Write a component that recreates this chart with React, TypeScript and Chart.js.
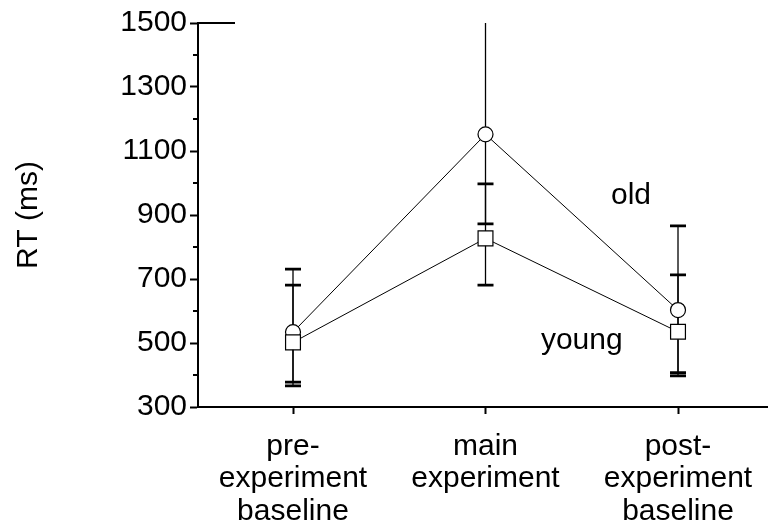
import React, { useEffect, useRef } from "react";
import { Chart, registerables } from "chart.js";

Chart.register(...registerables);

// Experiment phases (x-axis categories, multi-line labels)
const phases: string[][] = [
  ["pre-", "experiment", "baseline"],
  ["main", "experiment"],
  ["post-", "experiment", "baseline"],
];

// Mean reaction times (ms) and error-bar limits per age group
const oldMean = [534, 1152, 603];
const oldUpper = [731, 1560, 866];
const oldLower = [366, 872, 397];

const youngMean = [502, 827, 535];
const youngUpper = [681, 997, 713];
const youngLower = [378, 681, 407];

const yMajorTicks = [300, 500, 700, 900, 1100, 1300, 1500];
const yMinorTicks = [400, 600, 800, 1000, 1200, 1400];

const groupLabels = ["old", "young"];

const FONT = "'Liberation Sans', Arial, Helvetica, sans-serif";

// vertical whiskers with caps, drawn underneath the lines and markers
const errorBarPlugin = {
  id: "errorBars",
  beforeDatasetsDraw(chart: any) {
    const { ctx, chartArea, scales } = chart;
    const x = scales.x;
    const y = scales.y;
    ctx.save();
    ctx.beginPath();
    ctx.rect(chartArea.left, chartArea.top, chartArea.right - chartArea.left, chartArea.bottom - chartArea.top);
    ctx.clip();
    ctx.strokeStyle = "#000";
    chart.data.datasets.forEach((ds: any) => {
      ds.data.forEach((pt: any, i: number) => {
        const px = x.getPixelForValue(pt.x);
        const top = y.getPixelForValue(ds.errUpper[i]);
        const bot = y.getPixelForValue(ds.errLower[i]);
        ctx.lineWidth = 1.3;
        ctx.beginPath();
        ctx.moveTo(px, top);
        ctx.lineTo(px, bot);
        ctx.stroke();
        ctx.lineWidth = 2.8;
        ctx.beginPath();
        ctx.moveTo(px - 8, top);
        ctx.lineTo(px + 8, top);
        ctx.moveTo(px - 8, bot);
        ctx.lineTo(px + 8, bot);
        ctx.stroke();
      });
    });
    ctx.restore();
  },
};

// minor y ticks, the short top frame segment and the group labels
const decorPlugin = {
  id: "decor",
  afterDraw(chart: any) {
    const { ctx, chartArea, scales } = chart;
    const x = scales.x;
    const y = scales.y;
    ctx.save();
    ctx.strokeStyle = "#000";
    ctx.lineWidth = 2;
    ctx.beginPath();
    yMinorTicks.forEach((v) => {
      const py = Math.round(y.getPixelForValue(v));
      ctx.moveTo(chartArea.left - 5, py);
      ctx.lineTo(chartArea.left, py);
    });
    const pTop = y.getPixelForValue(yMajorTicks[yMajorTicks.length - 1]);
    ctx.moveTo(chartArea.left, pTop);
    ctx.lineTo(chartArea.left + 37, pTop);
    ctx.stroke();

    ctx.fillStyle = "#000";
    ctx.font = `30px ${FONT}`;
    ctx.textAlign = "center";
    ctx.textBaseline = "middle";
    ctx.fillText(groupLabels[0], x.getPixelForValue(1.756), y.getPixelForValue(959));
    ctx.fillText(groupLabels[1], x.getPixelForValue(1.5), y.getPixelForValue(506));
    ctx.restore();
  },
};

export default function App() {
  const canvasRef = useRef<HTMLCanvasElement | null>(null);

  useEffect(() => {
    const canvas = canvasRef.current;
    if (!canvas) return;

    const toPoints = (vals: number[]) => vals.map((v, i) => ({ x: i, y: v }));

    const chart = new Chart(canvas, {
      type: "line",
      data: {
        datasets: [
          {
            label: groupLabels[1],
            data: toPoints(youngMean),
            errUpper: youngUpper,
            errLower: youngLower,
            borderColor: "#000",
            borderWidth: 1,
            backgroundColor: "#fff",
            pointStyle: "rect",
            pointRadius: 10.5,
            pointBorderWidth: 1.2,
            pointBorderColor: "#000",
            pointBackgroundColor: "#fff",
            tension: 0,
          } as any,
          {
            label: groupLabels[0],
            data: toPoints(oldMean),
            errUpper: oldUpper,
            errLower: oldLower,
            borderColor: "#000",
            borderWidth: 1,
            backgroundColor: "#fff",
            pointStyle: "circle",
            pointRadius: 7.5,
            pointBorderWidth: 1.2,
            pointBorderColor: "#000",
            pointBackgroundColor: "#fff",
            tension: 0,
          } as any,
        ],
      },
      options: {
        responsive: false,
        animation: false,
        devicePixelRatio: 1,
        layout: { autoPadding: false, padding: { top: 23, left: 0, right: 0, bottom: 0 } },
        plugins: {
          legend: { display: false },
          tooltip: { enabled: false },
        },
        scales: {
          x: {
            type: "linear",
            min: -0.4935,
            max: 2.4675,
            afterBuildTicks: (scale: any) => {
              scale.ticks = phases.map((_, i) => ({ value: i }));
            },
            afterFit: (scale: any) => {
              scale.height = 124;
              scale.paddingLeft = 0;
              scale.paddingRight = 0;
            },
            border: { display: true, color: "#000", width: 2 },
            grid: {
              display: true,
              drawOnChartArea: false,
              drawTicks: true,
              tickLength: 7,
              tickColor: "#000",
              tickWidth: 2,
            },
            ticks: {
              autoSkip: false,
              maxRotation: 0,
              minRotation: 0,
              padding: 17,
              color: "#000",
              font: { family: FONT, size: 30, lineHeight: 1.07 },
              callback: (value: any) => phases[Math.round(Number(value))] ?? "",
            },
          },
          y: {
            type: "linear",
            min: yMajorTicks[0],
            max: yMajorTicks[yMajorTicks.length - 1],
            afterBuildTicks: (scale: any) => {
              scale.ticks = yMajorTicks.map((v) => ({ value: v }));
            },
            afterFit: (scale: any) => {
              scale.width = 198;
            },
            border: { display: true, color: "#000", width: 2 },
            grid: {
              display: true,
              drawOnChartArea: false,
              drawTicks: true,
              tickLength: 8,
              tickColor: "#000",
              tickWidth: 2,
            },
            ticks: {
              padding: 3,
              color: "#000",
              font: { family: FONT, size: 30 },
              callback: (value: any) => String(value),
            },
            title: {
              display: true,
              text: "RT (ms)",
              color: "#000",
              font: { family: FONT, size: 30 },
              padding: { top: 11, bottom: 0 },
            },
          },
        },
      },
      plugins: [errorBarPlugin, decorPlugin],
    } as any);

    return () => chart.destroy();
  }, []);

  return (
    <div style={{ position: "absolute", left: 0, top: 0, width: 768, height: 531, background: "#fff" }}>
      <canvas ref={canvasRef} width={768} height={531} style={{ display: "block" }} />
    </div>
  );
}
